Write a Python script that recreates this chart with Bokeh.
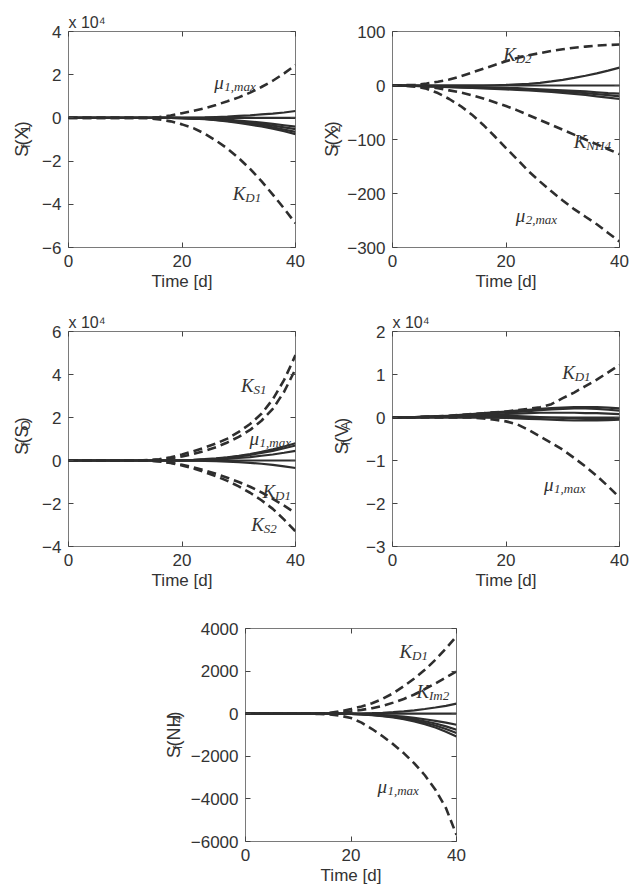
from math import pi

from bokeh.core.properties import value
from bokeh.embed import file_html
from bokeh.layouts import column, row
from bokeh.models import (CustomJSTickFormatter, FixedTicker, Label,
                          LinearAxis, Range1d)
from bokeh.plotting import figure
from bokeh.resources import INLINE

# time axis [d]
TIME = [0, 2, 4, 6, 8, 10, 12, 14, 16, 18, 20,
        22, 24, 26, 28, 30, 32, 34, 36, 38, 40]

# S_f(X_1), in units of 1e4
X1_MU1MAX = [0, 0, 0, 0, 0, 0, 0, 0.01, 0.04, 0.11, 0.22,
             0.33, 0.45, 0.6, 0.77, 0.95, 1.17, 1.43, 1.72, 2.06, 2.45]
X1_KD1 = [0, 0, 0, 0, 0, 0, 0, -0.02, -0.07, -0.16, -0.3,
          -0.47, -0.73, -1.05, -1.42, -1.86, -2.36, -2.93, -3.55, -4.2, -4.88]
X1_OTHERS = [
    [0, 0, 0, 0, 0, 0, 0, 0, 0, 0, 0,
     0.01, 0.02, 0.04, 0.06, 0.09, 0.12, 0.16, 0.2, 0.25, 0.32],
    [0, 0, 0, 0, 0, 0, 0, 0, 0, 0, 0,
     0, 0, 0, 0, 0, 0, 0, 0, 0, 0],
    [0, 0, 0, 0, 0, 0, 0, 0, 0, 0, 0,
     -0.01, -0.03, -0.05, -0.08, -0.12, -0.17, -0.22, -0.28, -0.34, -0.4],
    [0, 0, 0, 0, 0, 0, 0, 0, 0, 0, -0.01,
     -0.02, -0.04, -0.07, -0.11, -0.16, -0.22, -0.29, -0.36, -0.44, -0.52],
    [0, 0, 0, 0, 0, 0, 0, 0, 0, 0, -0.01,
     -0.03, -0.05, -0.09, -0.14, -0.2, -0.27, -0.35, -0.44, -0.54, -0.65],
    [0, 0, 0, 0, 0, 0, 0, 0, 0, 0, -0.01,
     -0.03, -0.06, -0.1, -0.16, -0.23, -0.31, -0.4, -0.5, -0.62, -0.75],
]

# S_f(X_2)
X2_KD2 = [0, 0.5, 1.5, 3.5, 7, 11, 17, 24, 31, 38, 45,
          51, 56, 60, 64, 67, 70, 72, 74, 75, 76]
X2_KNH4 = [0, -0.3, -1, -2.5, -5, -9, -13, -18, -24, -31, -38,
           -46, -55, -64, -73, -82, -91, -100, -109, -118, -127]
X2_MU2MAX = [0, -0.5, -2, -6, -14, -25, -38, -54, -73, -94, -116,
             -137, -159, -178, -196, -213, -229, -243, -257, -273, -289]
X2_OTHERS = [
    [0, 0, 0, 0, 0, 0, 0, 0, 0, 0.5, 1,
     2, 3, 5, 7.5, 10.5, 14, 18, 22.5, 27.5, 33],
    [0, 0, 0, 0, 0, 0, 0, 0, 0, 0, 0,
     0, 0, 0, 0, 0, 0, 0, 0, 0, 0],
    [0, -0.3, -0.6, -1, -1.5, -2, -2.5, -3, -3.5, -4, -4.5,
     -5, -6, -7, -8, -9, -10, -11, -12.5, -14, -15],
    [0, -0.3, -0.7, -1.2, -1.8, -2.4, -3, -3.7, -4.4, -5.1, -5.8,
     -6.6, -7.5, -8.5, -9.7, -11, -12.5, -14, -16, -18, -20],
    [0, -0.4, -0.9, -1.5, -2.2, -3, -3.8, -4.6, -5.4, -6.3, -7.2,
     -8.2, -9.3, -10.5, -12, -13.5, -15.5, -17.5, -20, -22.5, -25],
]

# S_f(S_O), in units of 1e4
SO_KS1 = [0, 0, 0, 0, 0, 0, 0, 0.02, 0.06, 0.15, 0.28,
          0.43, 0.6, 0.79, 1.02, 1.33, 1.7, 2.17, 2.85, 3.75, 4.9]
SO_MU1MAX = [0, 0, 0, 0, 0, 0, 0, 0.01, 0.04, 0.1, 0.19,
             0.3, 0.45, 0.62, 0.84, 1.1, 1.42, 1.85, 2.4, 3.2, 4.25]
SO_KD1 = [0, 0, 0, 0, 0, 0, 0, 0, -0.03, -0.1, -0.2,
          -0.32, -0.46, -0.62, -0.8, -1.0, -1.22, -1.48, -1.78, -2.1, -2.45]
SO_KS2 = [0, 0, 0, 0, 0, 0, 0, 0, -0.04, -0.12, -0.23,
          -0.37, -0.54, -0.73, -0.95, -1.2, -1.5, -1.85, -2.25, -2.75, -3.3]
SO_OTHERS = [
    [0, 0, 0, 0, 0, 0, 0, 0, 0, 0, 0.01,
     0.03, 0.06, 0.1, 0.15, 0.22, 0.3, 0.4, 0.52, 0.65, 0.8],
    [0, 0, 0, 0, 0, 0, 0, 0, 0, 0, 0.01,
     0.02, 0.05, 0.08, 0.13, 0.19, 0.26, 0.35, 0.45, 0.57, 0.7],
    [0, 0, 0, 0, 0, 0, 0, 0, 0, 0, 0,
     0.01, 0.03, 0.05, 0.08, 0.12, 0.16, 0.22, 0.28, 0.36, 0.45],
    [0, 0, 0, 0, 0, 0, 0, 0, 0, 0, 0,
     0, 0, 0, 0, 0, 0, 0, 0, 0, 0],
    [0, 0, 0, 0, 0, 0, 0, 0, 0, 0, 0,
     -0.01, -0.02, -0.03, -0.05, -0.08, -0.11, -0.15, -0.2, -0.27, -0.35],
]

# S_f(V_A), in units of 1e4
VA_KD1 = [0, 0.005, 0.01, 0.02, 0.03, 0.04, 0.06, 0.08, 0.1, 0.12, 0.14,
          0.17, 0.2, 0.24, 0.31, 0.45, 0.58, 0.73, 0.88, 1.05, 1.22]
VA_MU1MAX = [0, 0, 0, 0, 0, 0, 0, 0, -0.02, -0.05, -0.09,
             -0.16, -0.29, -0.44, -0.59, -0.75, -0.94, -1.14, -1.36, -1.6, -1.86]
VA_OTHERS = [
    [0, 0.005, 0.01, 0.02, 0.03, 0.04, 0.06, 0.08, 0.1, 0.12, 0.14,
     0.16, 0.18, 0.2, 0.22, 0.23, 0.24, 0.24, 0.24, 0.23, 0.21],
    [0, 0.005, 0.01, 0.02, 0.03, 0.04, 0.05, 0.06, 0.08, 0.1, 0.12,
     0.13, 0.15, 0.17, 0.19, 0.2, 0.21, 0.21, 0.2, 0.18, 0.16],
    [0, 0.005, 0.01, 0.015, 0.02, 0.03, 0.04, 0.05, 0.06, 0.07, 0.08,
     0.09, 0.1, 0.11, 0.11, 0.11, 0.11, 0.1, 0.1, 0.09, 0.08],
    [0, 0, 0.005, 0.01, 0.01, 0.02, 0.02, 0.02, 0.03, 0.03, 0.03,
     0.03, 0.02, 0.01, 0, -0.01, -0.02, -0.03, -0.03, -0.03, -0.02],
    [0, 0, 0, 0, 0, 0, 0, 0, 0, -0.005, -0.01,
     -0.02, -0.03, -0.04, -0.05, -0.06, -0.07, -0.07, -0.07, -0.06, -0.05],
    [0, 0, 0, 0, 0, 0, 0, 0, 0, 0, 0,
     0, 0, 0, 0, 0, 0, 0, 0, 0, 0],
]

# S_f(NH_4)
NH4_KD1 = [0, 0, 0, 0, 0, 0, 0, 10, 40, 110, 220,
           340, 490, 700, 960, 1290, 1650, 2060, 2530, 3060, 3640]
NH4_KIM2 = [0, 0, 0, 0, 0, 0, 0, 5, 20, 55, 110,
            180, 260, 370, 520, 690, 900, 1150, 1420, 1700, 1990]
NH4_MU1MAX = [0, 0, 0, 0, 0, 0, 0, -10, -35, -95, -205,
              -420, -720, -1060, -1430, -1850, -2330, -2890, -3570, -4430, -5690]
NH4_OTHERS = [
    [0, 0, 0, 0, 0, 0, 0, 0, 0, 0, 0,
     10, 25, 45, 75, 110, 160, 220, 290, 370, 470],
    [0, 0, 0, 0, 0, 0, 0, 0, 0, 0, 0,
     0, 0, 0, 0, 0, 0, 0, 0, 0, 0],
    [0, 0, 0, 0, 0, 0, 0, 0, 0, 0, -5,
     -15, -35, -60, -95, -140, -195, -260, -335, -420, -520],
    [0, 0, 0, 0, 0, 0, 0, 0, 0, 0, -10,
     -25, -50, -85, -130, -190, -265, -355, -460, -595, -750],
    [0, 0, 0, 0, 0, 0, 0, 0, 0, 0, -10,
     -30, -60, -100, -155, -225, -315, -425, -555, -720, -910],
    [0, 0, 0, 0, 0, 0, 0, 0, 0, 0, -15,
     -35, -70, -115, -180, -260, -365, -495, -650, -845, -1070],
]

X_TICKS = [0, 20, 40]

SANS = "Liberation Sans"
SERIF = "Liberation Serif"
TEXT = "#333333"
LINE = "#2e2e2e"

# advance widths (em) used to lay out the pieces of the y labels
SANS_W = {"S": 0.667, "f": 0.278, "(": 0.333, ")": 0.333, "X": 0.667,
          "V": 0.667, "A": 0.667, "O": 0.778, "N": 0.722, "H": 0.722,
          "1": 0.556, "2": 0.556, "4": 0.556}
MATH_W = {"K": 12.5, "μ": 10}


def make_panel(frame_w, frame_h, borders, y_lo, y_hi, y_ticks, exp=False):
    left, right, top, bottom = borders
    p = figure(frame_width=frame_w, frame_height=frame_h,
               x_range=Range1d(0, 40), y_range=Range1d(y_lo, y_hi),
               min_border_left=left, min_border_right=right,
               min_border_top=top, min_border_bottom=bottom,
               output_backend="svg", toolbar_location=None)
    p.grid.visible = False
    p.outline_line_color = "#7a7a7a"
    p.background_fill_color = "white"
    p.border_fill_color = "white"

    if exp:
        p.title.text = "x 10\u2074"
        p.title.align = "left"
        p.title.text_font = SANS
        p.title.text_font_size = "16px"
        p.title.text_font_style = "normal"
        p.title.text_color = TEXT
        p.title.standoff = 2

    # mirrored ticks on the top and right edges of the box
    top_axis = LinearAxis()
    right_axis = LinearAxis()
    p.add_layout(top_axis, "above")
    p.add_layout(right_axis, "right")
    fmt = CustomJSTickFormatter(
        code="return tick < 0 ? '\u2212' + String(-tick) : String(tick);")
    for ax in p.xaxis:
        ax.ticker = FixedTicker(ticks=X_TICKS)
    for ax in p.yaxis:
        ax.ticker = FixedTicker(ticks=y_ticks)
    for ax in p.axis:
        ax.axis_line_color = None
        ax.major_tick_in = 5
        ax.major_tick_out = 0
        ax.major_tick_line_color = "#444444"
        ax.minor_tick_line_color = None
        ax.formatter = fmt
        ax.major_label_text_font = SANS
        ax.major_label_text_font_size = "17px"
        ax.major_label_text_color = TEXT
        ax.major_label_standoff = 7
    for ax in (top_axis, right_axis):
        ax.major_label_text_font_size = "1px"
        ax.major_label_text_color = None
        ax.major_label_standoff = 0

    bottom_axis = p.below[0]
    bottom_axis.axis_label = "Time [d]"
    bottom_axis.axis_label_text_font = SANS
    bottom_axis.axis_label_text_font_size = "17px"
    bottom_axis.axis_label_text_font_style = "normal"
    bottom_axis.axis_label_text_color = TEXT
    bottom_axis.axis_label_standoff = 2
    return p


def draw(p, solid, dashed):
    for ys in solid:
        p.line(TIME, ys, line_color=LINE, line_width=2.2)
    for ys in dashed:
        p.line(TIME, ys, line_color=LINE, line_width=2.6, line_dash="9 5")


def label_strip(width, height, base_x, center_y, pieces):
    # narrow figure left of a panel, in pixel units, holding the y label
    f = figure(width=width, height=height, x_range=Range1d(0, width),
               y_range=Range1d(0, height), min_border=0,
               x_axis_type=None, y_axis_type=None,
               output_backend="svg", toolbar_location=None)
    f.grid.visible = False
    f.outline_line_color = None
    size, sub_size = 18, 13
    widths = [sum(SANS_W[c] for c in txt) * (sub_size if sub else size)
              for txt, sub in pieces]
    pos = center_y - sum(widths) / 2
    for (txt, sub), w in zip(pieces, widths):
        f.text(x=[base_x + (4 if sub else 0)], y=[pos], text=[txt],
               angle=pi / 2, text_align="left", text_baseline="alphabetic",
               text_font=value(SANS),
               text_font_size=value("%dpx" % (sub_size if sub else size)),
               text_color=TEXT)
        pos += w
    return f


def math_label(p, x, y, main, sub):
    p.add_layout(Label(x=x, y=y, text=main, text_baseline="alphabetic",
                       text_font=SERIF, text_font_style="italic",
                       text_font_size="19px", text_color=TEXT))
    p.add_layout(Label(x=x, y=y, x_offset=MATH_W[main], y_offset=-4,
                       text=sub, text_baseline="alphabetic",
                       text_font=SERIF, text_font_style="italic",
                       text_font_size="13px", text_color=TEXT))


p1 = make_panel(227, 216, (31, 10, 31, 52), -6, 4, [-6, -4, -2, 0, 2, 4], exp=True)
draw(p1, X1_OTHERS, [X1_MU1MAX, X1_KD1])
math_label(p1, 25.7, 1.65, "μ", "1,max")
math_label(p1, 28.95, -3.51, "K", "D1")
lab1 = label_strip(37, 299, 21, 149,
                   [("S", False), ("f", True), ("(X", False), ("1", True), (")", False)])

p2 = make_panel(227, 216, (48, 14, 31, 52), -300, 100, [-300, -200, -100, 0, 100])
draw(p2, X2_OTHERS, [X2_KD2, X2_KNH4, X2_MU2MAX])
math_label(p2, 19.5, 57, "K", "D2")
math_label(p2, 31.95, -103, "K", "NH4")
math_label(p2, 21.7, -241, "μ", "2,max")
lab2 = label_strip(39, 299, 26, 149,
                   [("S", False), ("f", True), ("(X", False), ("2", True), (")", False)])

p3 = make_panel(227, 215, (31, 10, 32, 53), -4, 6, [-4, -2, 0, 2, 4, 6], exp=True)
draw(p3, SO_OTHERS, [SO_KS1, SO_MU1MAX, SO_KD1, SO_KS2])
math_label(p3, 30.4, 3.49, "K", "S1")
math_label(p3, 31.9, 1.01, "μ", "1,max")
math_label(p3, 34.2, -1.43, "K", "D1")
math_label(p3, 32.2, -2.98, "K", "S2")
lab3 = label_strip(37, 300, 21, 153,
                   [("S", False), ("f", True), ("(S", False), ("O", True), (")", False)])

p4 = make_panel(227, 215, (36, 14, 32, 53), -3, 2, [-3, -2, -1, 0, 1, 2], exp=True)
draw(p4, VA_OTHERS, [VA_KD1, VA_MU1MAX])
math_label(p4, 29.9, 1.04, "K", "D1")
math_label(p4, 26.7, -1.56, "μ", "1,max")
lab4 = label_strip(51, 300, 36, 153,
                   [("S", False), ("f", True), ("(V", False), ("A", True), (")", False)])

p5 = make_panel(211, 213, (60, 20, 29, 45), -6000, 4000,
                [-6000, -4000, -2000, 0, 2000, 4000])
draw(p5, NH4_OTHERS, [NH4_KD1, NH4_KIM2, NH4_MU1MAX])
math_label(p5, 29.2, 2934, "K", "D1")
math_label(p5, 32.4, 1056, "K", "Im2")
math_label(p5, 25.0, -3404, "μ", "1,max")
lab5 = label_strip(185, 287, 173, 142,
                   [("S", False), ("f", True), ("(NH", False), ("4", True), (")", False)])

layout = column(row(lab1, p1, lab2, p2), row(lab3, p3, lab4, p4),
                row(lab5, p5))

with open("out.html", "w") as f:
    f.write(file_html(layout, INLINE))
